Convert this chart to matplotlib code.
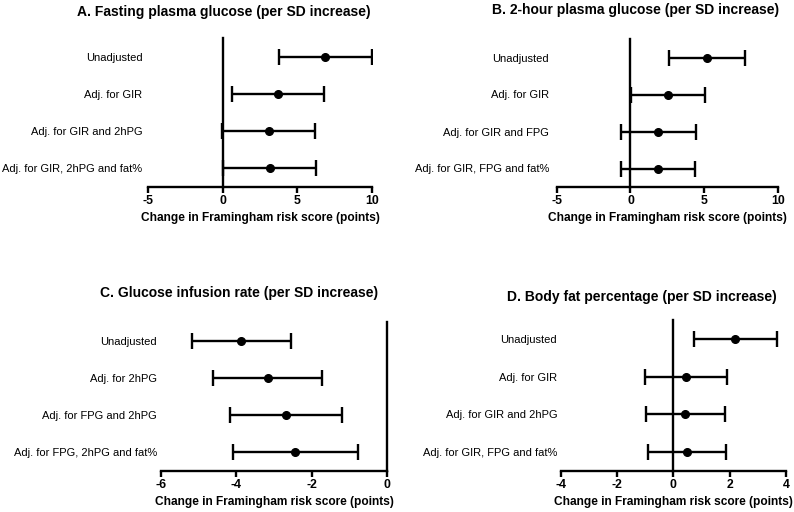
import matplotlib
matplotlib.use("Agg")
import matplotlib.pyplot as plt

plt.rcParams["font.family"] = ["Liberation Sans", "DejaVu Sans"]

# --- data (estimate, lower CI, upper CI) ------------------------------------
a_labels = ["Unadjusted", "Adj. for GIR", "Adj. for GIR and 2hPG",
            "Adj. for GIR, 2hPG and fat%"]
a_est = [6.86, 3.70, 3.10, 3.15]
a_lo = [3.77, 0.60, -0.05, 0.00]
a_hi = [10.00, 6.80, 6.20, 6.25]

b_labels = ["Unadjusted", "Adj. for GIR", "Adj. for GIR and FPG",
            "Adj. for GIR, FPG and fat%"]
b_est = [5.20, 2.55, 1.89, 1.87]
b_lo = [2.60, 0.05, -0.63, -0.63]
b_hi = [7.75, 5.07, 4.44, 4.39]

c_labels = ["Unadjusted", "Adj. for 2hPG", "Adj. for FPG and 2hPG",
            "Adj. for FPG, 2hPG and fat%"]
c_est = [-3.88, -3.17, -2.68, -2.43]
c_lo = [-5.18, -4.62, -4.17, -4.08]
c_hi = [-2.56, -1.72, -1.20, -0.77]

d_labels = ["Unadjusted", "Adj. for GIR", "Adj. for GIR and 2hPG",
            "Adj. for GIR, FPG and fat%"]
d_est = [2.20, 0.44, 0.41, 0.49]
d_lo = [0.73, -1.00, -0.97, -0.89]
d_hi = [3.67, 1.90, 1.85, 1.86]

XLABEL = "Change in Framingham risk score (points)"

W, H = 794, 512
fig = plt.figure(figsize=(W / 100, H / 100), dpi=100)


def px_axes(x0, x1, y0, y1):
    """axes from pixel box (left, right, top, bottom)"""
    return fig.add_axes([x0 / W, 1 - y1 / H, (x1 - x0) / W, (y1 - y0) / H])


def forest(ax, labels, est, lo, hi, xlim, xticks, label_pad=4):
    ys = list(range(len(labels)))[::-1]
    err = [[e - l for e, l in zip(est, lo)], [h - e for e, h in zip(est, hi)]]
    ax.errorbar(est, ys, xerr=err, fmt="o", color="black", ms=5.5,
                elinewidth=1.7, capsize=6, capthick=1.7, zorder=3)
    ax.axvline(0, color="black", lw=1.7, clip_on=False, zorder=2)
    ax.set_xlim(*xlim)
    ax.set_ylim(-0.5, len(labels) - 0.5)
    ax.set_xticks(xticks)
    ax.set_xticklabels([f"{t:g}" for t in xticks], fontweight="bold", fontsize=8.8)
    ax.set_yticks(ys)
    ax.set_yticklabels(labels, fontsize=8)
    ax.tick_params(axis="y", length=0, pad=label_pad)
    ax.tick_params(axis="x", length=4.5, width=1.7, pad=1.5, direction="out")
    for s in ("top", "right", "left"):
        ax.spines[s].set_visible(False)
    ax.spines["bottom"].set_linewidth(1.7)
    ax.set_xlabel(XLABEL, fontweight="bold", fontsize=8.6, labelpad=3)
    ax.patch.set_visible(False)


ax_a = px_axes(148, 372, 38, 187)
forest(ax_a, a_labels, a_est, a_lo, a_hi, (-5, 10), [-5, 0, 5, 10], 4)
fig.text(223.5 / W, 1 - 12 / H, "A. Fasting plasma glucose (per SD increase)",
         ha="center", va="center", fontweight="bold", fontsize=10)

ax_b = px_axes(556.7, 778, 39, 187)
forest(ax_b, b_labels, b_est, b_lo, b_hi, (-5, 10), [-5, 0, 5, 10], 5.5)
fig.text(636 / W, 1 - 10 / H, "B. 2-hour plasma glucose (per SD increase)",
         ha="center", va="center", fontweight="bold", fontsize=10)

ax_c = px_axes(161, 387, 322, 471)
forest(ax_c, c_labels, c_est, c_lo, c_hi, (-6, 0), [-6, -4, -2, 0], 3)
fig.text(239 / W, 1 - 293 / H, "C. Glucose infusion rate (per SD increase)",
         ha="center", va="center", fontweight="bold", fontsize=10)

ax_d = px_axes(560.7, 786, 320, 471)
forest(ax_d, d_labels, d_est, d_lo, d_hi, (-4, 4), [-4, -2, 0, 2, 4], 2.5)
fig.text(641.5 / W, 1 - 297 / H, "D. Body fat percentage (per SD increase)",
         ha="center", va="center", fontweight="bold", fontsize=10)

fig.savefig("out.png", dpi=100)
